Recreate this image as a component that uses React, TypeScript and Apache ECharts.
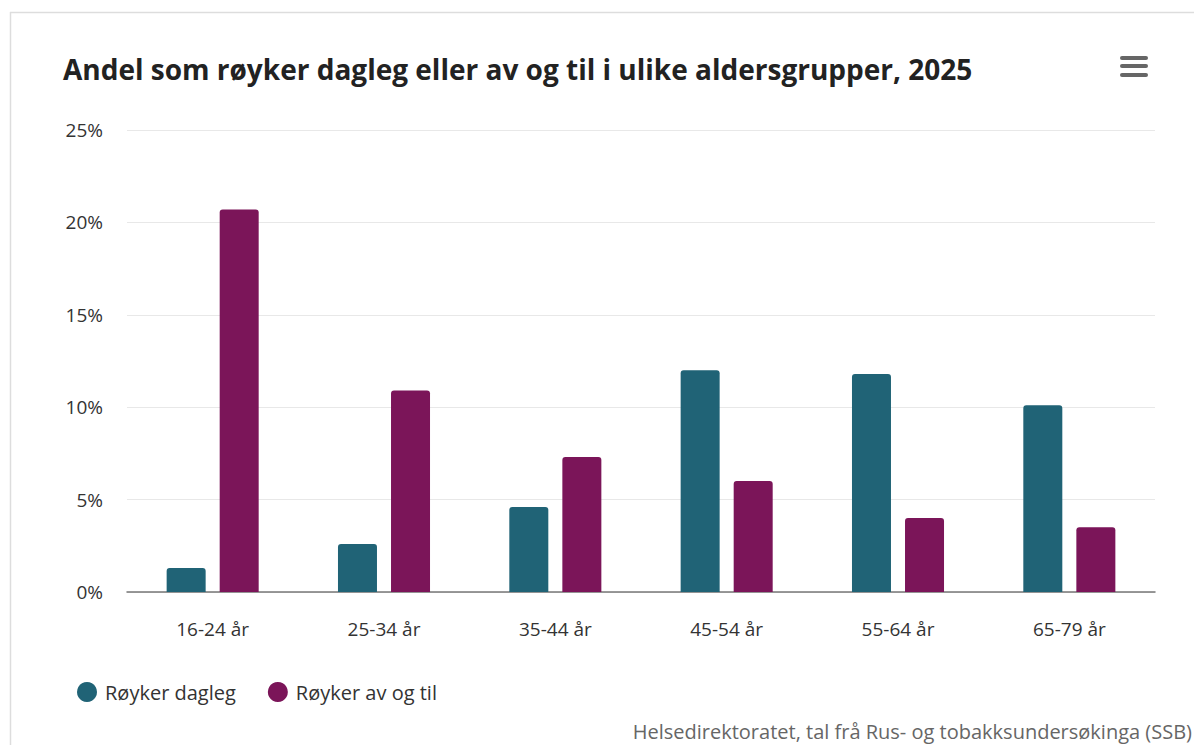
import React, { useEffect, useRef } from "react";
import * as echarts from "echarts";

const categories = ["16-24 år", "25-34 år", "35-44 år", "45-54 år", "55-64 år", "65-79 år"];
const dagleg = [1.3, 2.6, 4.6, 12.0, 11.8, 10.1];
const avOgTil = [20.7, 10.9, 7.3, 6.0, 4.0, 3.5];
const seriesNames = ["Røyker dagleg", "Røyker av og til"];
const titleText = "Andel som røyker dagleg eller av og til i ulike aldersgrupper, 2025";
const creditText = "Helsedirektoratet, tal frå Rus- og tobakksundersøkinga (SSB)";

const FONT = "'Open Sans', 'Noto Sans', sans-serif";

export default function App() {
  const ref = useRef<HTMLDivElement>(null);
  useEffect(() => {
    document.body.style.margin = "0";
    const chart = echarts.init(ref.current!, null, { renderer: "svg" });
    chart.setOption({
      animation: false,
      backgroundColor: "#ffffff",
      title: {
        text: titleText,
        left: 58,
        top: 50,
        textStyle: { fontFamily: FONT, fontSize: 28, fontWeight: "bold", color: "#222222" },
      },
      legend: {
        left: 72,
        top: 677,
        itemWidth: 26,
        itemHeight: 20,
        itemGap: 32,
        icon: "circle",
        textStyle: { fontFamily: FONT, fontSize: 20, color: "#333333" },
        data: seriesNames,
      },
      grid: { left: 127, right: 39, top: 130, bottom: 153, containLabel: false },
      xAxis: {
        type: "category",
        data: categories,
        axisTick: { show: false },
        axisLine: { lineStyle: { color: "#777777", width: 1.5 } },
        axisLabel: { fontFamily: FONT, fontSize: 19, color: "#333333", margin: 27 },
      },
      yAxis: {
        type: "value",
        min: 0,
        max: 25,
        interval: 5,
        axisLabel: { formatter: "{value}%", fontFamily: FONT, fontSize: 19, color: "#333333", margin: 24 },
        splitLine: { lineStyle: { color: "#e8e8e8", width: 1 } },
        axisLine: { show: false },
        axisTick: { show: false },
      },
      series: [
        {
          name: seriesNames[0],
          type: "bar",
          data: dagleg,
          barWidth: 39,
          barGap: "36%",
          itemStyle: { color: "#206376", borderRadius: [3, 3, 0, 0] },
        },
        {
          name: seriesNames[1],
          type: "bar",
          data: avOgTil,
          barWidth: 39,
          barGap: "36%",
          itemStyle: { color: "#7b1559", borderRadius: [3, 3, 0, 0] },
        },
      ],
      graphic: [
        { type: "line", shape: { x1: 10, y1: 12.5, x2: 1194, y2: 12.5 }, style: { stroke: "#dddddd", lineWidth: 1.5 } },
        { type: "line", shape: { x1: 10.5, y1: 12, x2: 10.5, y2: 745 }, style: { stroke: "#dddddd", lineWidth: 1.5 } },
        { type: "rect", shape: { x: 1120, y: 56, width: 28, height: 4, r: 2 }, style: { fill: "#666666" } },
        { type: "rect", shape: { x: 1120, y: 64, width: 28, height: 4, r: 2 }, style: { fill: "#666666" } },
        { type: "rect", shape: { x: 1120, y: 73, width: 28, height: 4, r: 2 }, style: { fill: "#666666" } },
        {
          type: "text",
          right: 2,
          top: 721,
          style: { text: creditText, fontFamily: FONT, fontSize: 20, fill: "#666666" },
        },
      ],
    });
    return () => chart.dispose();
  }, []);
  return <div ref={ref} style={{ width: 1194, height: 745 }} />;
}
